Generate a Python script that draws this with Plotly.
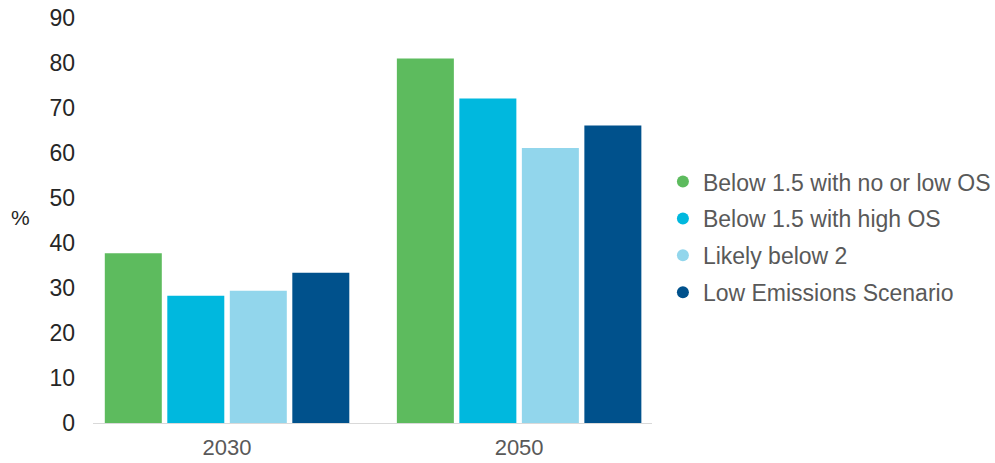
import plotly.graph_objects as go

years = ["2030", "2050"]
series_names = [
    "Below 1.5 with no or low OS",
    "Below 1.5 with high OS",
    "Likely below 2",
    "Low Emissions Scenario",
]
below15_low_os = [37.7, 81.0]
below15_high_os = [28.3, 72.1]
likely_below2 = [29.4, 61.1]
low_emissions = [33.4, 66.1]
y_ticks = [0, 10, 20, 30, 40, 50, 60, 70, 80, 90]

colors = ["#5DBB5E", "#00B8DE", "#92D6EC", "#00518C"]
values = [below15_low_os, below15_high_os, likely_below2, low_emissions]

fig = go.Figure()
for name, vals, col in zip(series_names, values, colors):
    fig.add_trace(go.Bar(x=years, y=vals, name=name, marker_color=col,
                         marker_line_width=0, showlegend=False))
for i, (name, col) in enumerate(zip(series_names, colors)):
    fig.add_trace(go.Scatter(x=[None], y=[None], mode="markers", name=name,
                             marker=dict(color=col, size=14, symbol="circle"),
                             legendgroup=f"g{i}", showlegend=True))

fig.update_layout(
    width=995, height=463,
    margin=dict(l=93, r=343, t=17.5, b=40.3, autoexpand=False),
    paper_bgcolor="white", plot_bgcolor="white",
    barmode="group", bargap=0.144, bargroupgap=0.088,
    font=dict(family="Liberation Sans, Arial, sans-serif", size=22, color="#262626"),
    showlegend=True,
    legend=dict(x=1.0195, xanchor="left", y=0.459, yanchor="middle",
                font=dict(size=23, color="#595959"),
                traceorder="grouped", tracegroupgap=4,
                itemsizing="constant", bgcolor="rgba(0,0,0,0)"),
    annotations=[dict(text="%", xref="paper", yref="paper", x=-0.129, y=0.507,
                      xanchor="center", yanchor="middle", showarrow=False,
                      font=dict(size=21, color="#262626"))],
)
fig.update_xaxes(type="category", range=[-0.459, 1.455], showline=True,
                 linecolor="#D9D9D9", linewidth=1, showgrid=False, ticks="",
                 automargin=False, ticklabelstandoff=5, ticklabeloverflow="allow",
                 tickfont=dict(size=22, color="#595959"), zeroline=False)
fig.update_yaxes(range=[0, 90], tickvals=y_ticks, showgrid=False, zeroline=False,
                 showline=False, ticks="", ticklabelstandoff=17, automargin=False,
                 ticklabeloverflow="allow",
                 tickfont=dict(size=23, color="#262626"))

fig.write_html("out.html", config={"displayModeBar": False},
               post_script="document.body.style.margin='0';document.body.style.overflow='hidden';")
